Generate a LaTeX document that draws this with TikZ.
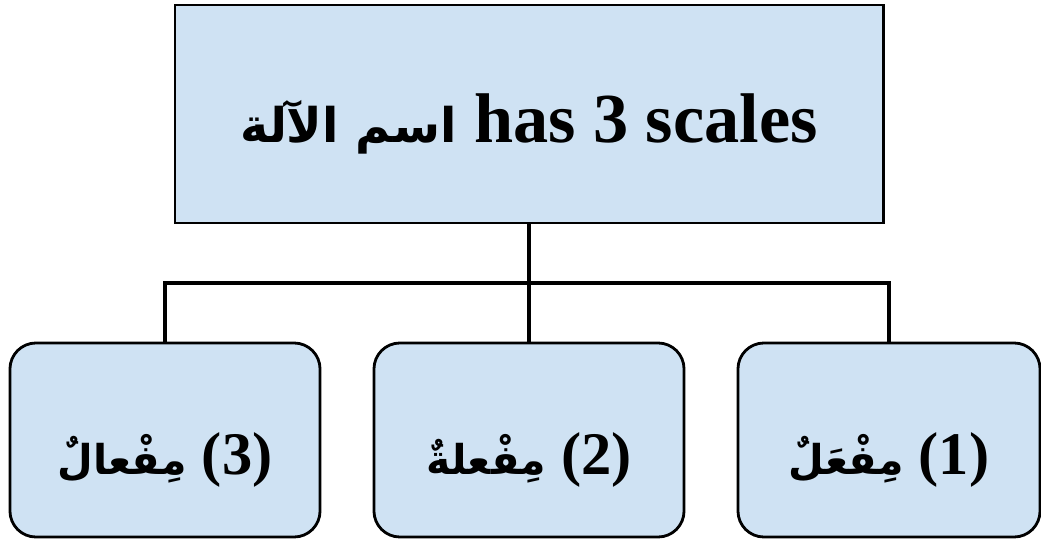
\documentclass[tikz,border=0pt]{standalone}
\usepackage{fontspec}
\setmainfont{Liberation Serif}
\newfontfamily\arabicfont[Script=Arabic,Scale=0.68]{DejaVu Sans}
\TeXXeTstate=1
\definecolor{boxblue}{HTML}{CFE2F3}

\begin{document}
\begin{tikzpicture}[x=0.025cm, y=-0.025cm,
    topbox/.style={draw, fill=boxblue, line width=2pt, minimum width=17.7cm, minimum height=5.45cm,
      text height=1.8cm, text depth=0.4cm, font=\bfseries\fontsize{50}{60}\selectfont},
    scalebox/.style={draw, fill=boxblue, line width=2pt, rounded corners=0.65cm, minimum width=7.75cm,
      minimum height=4.85cm, text height=1.9cm, text depth=0.2cm, font=\bfseries\fontsize{43}{50}\selectfont}]
    \useasboundingbox (0,0) rectangle (1041,541);

    \node[topbox] (name) at (529,114) {{\arabicfont\beginR اسم الآلة\endR} has 3 scales};

    \node[scalebox] (scale3) at (165,440) {{\arabicfont\beginR مِفْعالٌ\endR} (3)};
    \node[scalebox] (scale2) at (529,440) {{\arabicfont\beginR مِفْعلةٌ\endR} (2)};
    \node[scalebox, minimum width=7.55cm] (scale1) at (889,440) {{\arabicfont\beginR مِفْعَلٌ\endR} (1)};

    \coordinate (bus) at (529,283);
    \draw[line width=2.2pt] (name.south) -- (scale2.north);
    \draw[line width=2.2pt] (scale3.north) |- (bus) -| (scale1.north);
\end{tikzpicture}
\end{document}
